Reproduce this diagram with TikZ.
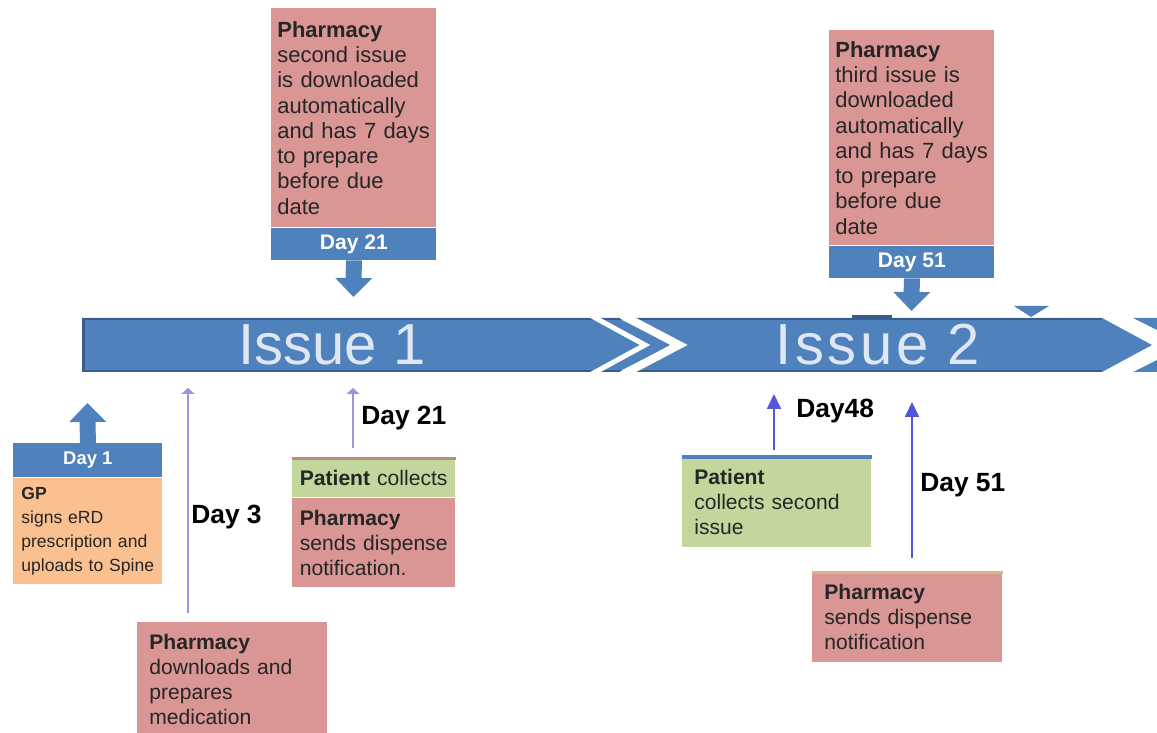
\documentclass[tikz,border=0pt]{standalone}
\usepackage{fontspec}
\setmainfont{Liberation Sans}
\usepackage{tikz}
\usetikzlibrary{arrows.meta,positioning}
\definecolor{pasek}{RGB}{79,129,189}
\definecolor{pasekciemny}{RGB}{56,93,138}
\definecolor{rozowy}{RGB}{217,150,148}
\definecolor{zielony}{RGB}{195,214,155}
\definecolor{pomarancz}{RGB}{250,192,144}
\definecolor{napis}{RGB}{222,231,242}
\definecolor{lawenda}{RGB}{150,150,225}
\definecolor{niebieski}{RGB}{85,85,215}
\definecolor{brazowy}{RGB}{190,140,120}
\definecolor{piasek}{RGB}{205,185,140}
\tikzset{
  gorny/.style   = {fill=rozowy, align=left, anchor=north west, inner ysep=0pt,
                    inner xsep=0.12cm, text width=3.06cm, text=black!85,
                    font=\fontsize{12.5}{14.4}\selectfont},
  dolny/.style   = {fill=rozowy, align=left, anchor=north west, inner ysep=0pt,
                    inner xsep=0.24cm, text width=3.32cm, text=black!85,
                    font=\fontsize{12}{14.2}\selectfont},
  zielen/.style  = {dolny, fill=zielony},
  wstega/.style  = {fill=pasek, text=white, inner sep=0pt, minimum height=0.64cm,
                    font=\bfseries\fontsize{12}{14}\selectfont},
  dzien/.style   = {anchor=west, inner sep=0pt, font=\bfseries\fontsize{15}{18}\selectfont},
  etap/.style    = {text=napis, inner sep=0pt, font=\fontsize{33}{36}\selectfont},
  blokowa/.style = {draw=pasek, line width=0.32cm,
                    -{Triangle[width=0.74cm, length=0.38cm, line width=0pt]}},
  cienka/.style  = {line width=1.1pt, -{Triangle[width=2.6mm, length=1.2mm]}},
  ostra/.style   = {line width=1.1pt, -{Triangle[width=2.8mm, length=3mm]}},
}
\begin{document}
\begin{tikzpicture}[x=0.02cm, y=-0.02cm]
  \useasboundingbox (0,0) rectangle (1157,733);

  % timeline bars
  \fill[pasek] (82,318) -- (618,318) -- (672,345) -- (618,372) -- (82,372) -- cycle;
  \fill[pasek] (625,318) -- (1102,318) -- (1152,345) -- (1102,372) -- (625,372) -- (680,345) -- cycle;
  \fill[pasek] (1133,318) -- (1157,318) -- (1157,330) -- cycle;
  \fill[pasek] (1133,372) -- (1157,372) -- (1157,360) -- cycle;
  \draw[pasekciemny, line width=0.04cm] (82,319) -- (1102,319) (82,371) -- (1102,371);
  \draw[pasekciemny, line width=0.06cm] (83,319) -- (83,371);
  \draw[white, line width=0.1cm] (590,315) -- (645,345) -- (590,375);
  \draw[white, line width=0.16cm] (622,315) -- (679,345) -- (622,375);
  \draw[pasekciemny, line width=0.06cm] (852,317) -- (892,317);
  \fill[pasek] (1014,306) -- (1049,306) -- (1031,317) -- cycle;
  \node[etap] (issue1) at (332,345) {Issue 1};
  \node[etap, font=\fontsize{33}{36}\addfontfeature{LetterSpace=6}\selectfont] (issue2) at (878,345) {Issue 2};

  % top boxes
  \node[gorny, minimum height=4.38cm] (dzien21) at (271,8)
    {\textbf{Pharmacy}\\second issue\\is downloaded\\automatically\\and has 7 days\\to prepare\\before due\\date};
  \node[wstega, minimum width=3.3cm, below=0pt of dzien21] (pas21) {Day 21};
  \node[gorny, minimum height=4.3cm] (dzien51) at (829,30)
    {\textbf{Pharmacy}\\third issue is\\downloaded\\automatically\\and has 7 days\\to prepare\\before due\\date};
  \node[wstega, minimum width=3.3cm, below=0pt of dzien51] (pas51) {Day 51};
  \coordinate (grot21) at (353.5,297);
  \coordinate (grot51) at (911.5,311);
  \draw[blokowa] (pas21.south) -- (grot21);
  \draw[blokowa] (pas51.south) -- (grot51);

  % day 1
  \node[wstega, anchor=north west, minimum width=2.98cm, minimum height=0.68cm,
        font=\bfseries\fontsize{10.5}{12}\selectfont] (pas1) at (13,443) {Day 1};
  \node[dolny, fill=pomarancz, below=0pt of pas1, inner xsep=0.16cm, text width=2.66cm,
        minimum height=2.12cm, font=\fontsize{10}{13.6}\selectfont] (gp)
    {\textbf{GP}\\signs eRD\\prescription and\\uploads to Spine};
  \coordinate (grot1) at (87.5,403);
  \draw[blokowa] (pas1.north) -- (grot1);

  % day 3
  \node[dolny, minimum height=2.3cm] (pobiera) at (137,622)
    {\textbf{Pharmacy}\\downloads and\\prepares\\medication};
  \coordinate (grot3) at (188,388);
  \draw[cienka, lawenda, shorten <=0.18cm] (pobiera.north -| grot3) -- (grot3);
  \node[dzien] (etyk3) at (191,517) {Day 3};

  % day 21
  \node[zielen, inner xsep=0.15cm, text width=2.96cm, minimum height=0.78cm] (odbior1) at (292,458)
    {\textbf{Patient} collects};
  \node[dolny, below=0pt of odbior1, inner xsep=0.15cm, text width=2.96cm, minimum height=1.78cm] (wydanie1)
    {\textbf{Pharmacy}\\sends dispense\\notification.};
  \draw[brazowy, line width=0.06cm] (odbior1.north west) -- (odbior1.north east);
  \coordinate (grot21d) at (353,388);
  \draw[cienka, lawenda, shorten <=0.2cm] (odbior1.north -| grot21d) -- (grot21d);
  \node[dzien] (etyk21) at (361,418) {Day 21};

  % day 48
  \node[zielen, text width=3.3cm, minimum height=1.8cm] (odbior2) at (682,457)
    {\textbf{Patient}\\collects second\\issue};
  \draw[pasek, line width=0.08cm] (odbior2.north west) -- (odbior2.north east);
  \coordinate (grot48) at (774,394);
  \draw[ostra, niebieski, shorten <=0.14cm] (odbior2.north -| grot48) -- (grot48);
  \node[dzien] (etyk48) at (796,411) {Day48};

  % day 51
  \node[dolny, minimum height=1.8cm] (wydanie2) at (812,572)
    {\textbf{Pharmacy}\\sends dispense\\notification};
  \draw[piasek, line width=0.06cm] (wydanie2.north west) -- (wydanie2.north east);
  \coordinate (grot51d) at (912,402);
  \draw[ostra, niebieski, shorten <=0.28cm] (wydanie2.north -| grot51d) -- (grot51d);
  \node[dzien] (etyk51) at (920,485) {Day 51};
\end{tikzpicture}
\end{document}
